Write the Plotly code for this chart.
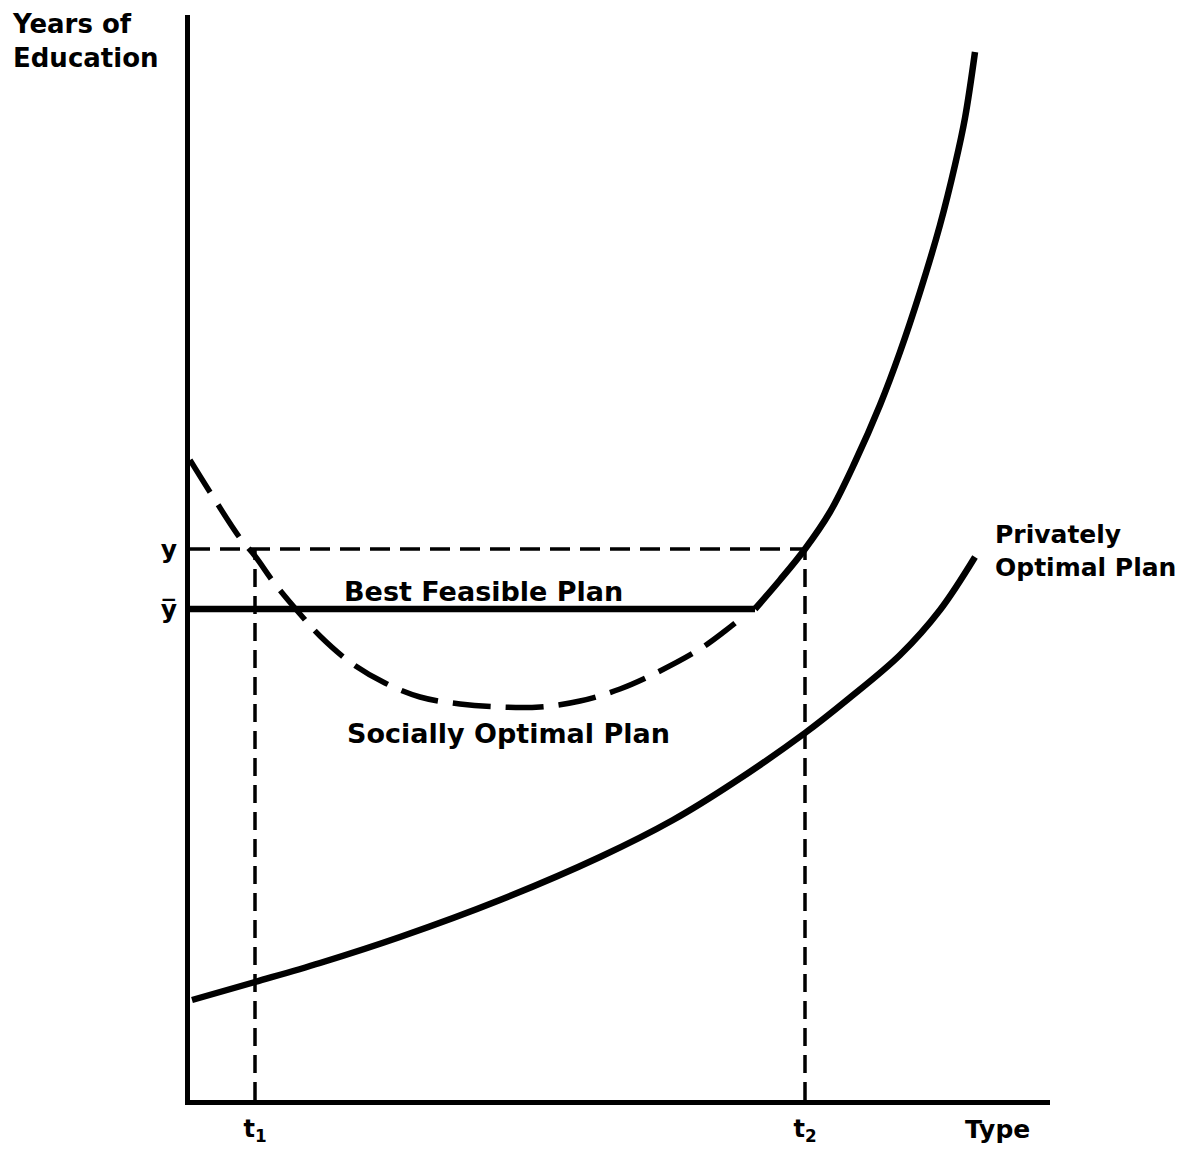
import plotly.graph_objects as go

# ---- data (Type on x, Years of Education on y; arbitrary units) ----
t1 = 6.5
t2 = 61.5
y_level = 55.1      # y
y_bar = 49.1        # y-bar

private_type = [0.2, 6.5, 13.0, 21.0, 31.0, 41.0, 48.3, 54.3, 61.5, 65.7, 71.0, 75.0, 78.5]
private_years = [10.0, 11.8, 13.7, 16.3, 20.0, 24.3, 28.0, 31.7, 36.7, 40.0, 44.5, 49.0, 54.3]

# best feasible plan: flat segment at y-bar, then the rising branch
feasible_flat_type = [0.0, 56.5]
feasible_flat_years = [49.1, 49.1]
feasible_rise_type = [56.5, 59.0, 61.5, 64.0, 66.5, 69.0, 71.0, 73.0, 75.0, 76.5, 77.5, 78.5]
feasible_rise_years = [49.1, 52.0, 55.1, 58.8, 63.8, 69.5, 74.8, 80.8, 87.5, 93.5, 98.2, 104.8]

social_type = [0.0, 2.5, 5.0, 6.5, 8.5, 11.0, 13.0, 16.0, 19.5, 23.0, 27.0, 31.0, 35.0, 39.0,
               43.0, 47.0, 51.0, 53.5, 55.5]
social_years = [64.0, 60.0, 56.2, 54.4, 51.6, 48.6, 46.4, 43.8, 41.7, 40.3, 39.6, 39.3, 39.3,
                39.9, 41.1, 42.9, 45.1, 46.9, 48.5]

x_ticks = [t1, t2]
x_tick_labels = ["<b>t<sub>1</sub></b>", "<b>t<sub>2</sub></b>"]
y_ticks = [y_level, y_bar]
y_tick_labels = ["<b>y</b>", "<b>y\u0305</b>"]

FONT = "DejaVu Sans"
fs = 25
fig = go.Figure()

# reference dashed lines
fig.add_trace(go.Scatter(x=[0, t2], y=[y_level, y_level], mode="lines",
                         line=dict(color="black", width=3.5, dash="20px,10px")))
fig.add_trace(go.Scatter(x=[t1, t1], y=[0, y_level], mode="lines",
                         line=dict(color="black", width=3.5, dash="18px,9px")))
fig.add_trace(go.Scatter(x=[t2, t2], y=[0, y_level], mode="lines",
                         line=dict(color="black", width=3.5, dash="18px,9px")))

# curves
fig.add_trace(go.Scatter(x=social_type, y=social_years, mode="lines", line_shape="spline",
                         line=dict(color="black", width=5.5, dash="38px,15px")))
fig.add_trace(go.Scatter(x=feasible_flat_type, y=feasible_flat_years, mode="lines",
                         line=dict(color="black", width=6.5)))
fig.add_trace(go.Scatter(x=feasible_rise_type, y=feasible_rise_years, mode="lines",
                         line_shape="spline", line=dict(color="black", width=6.5)))
fig.add_trace(go.Scatter(x=private_type, y=private_years, mode="lines", line_shape="spline",
                         line=dict(color="black", width=6.5)))


def label(text, x, y, xref="x", yref="y", xanchor="center", yanchor="middle",
          align="center", size=fs):
    fig.add_annotation(x=x, y=y, xref=xref, yref=yref, text=text, showarrow=False,
                       xanchor=xanchor, yanchor=yanchor, align=align,
                       font=dict(family=FONT, size=size, color="black"))


label("<b>Best Feasible Plan</b>", 29.3, 50.9, size=27)
label("<b>Socially Optimal Plan</b>", 31.8, 36.7, size=27)
label("<b>Privately<br>Optimal Plan</b>", 80.3, 58.2, xanchor="left", yanchor="top", align="left")
label("<b>Type</b>", 0.9395, -0.0276, xref="paper", yref="paper")
label("<b>Years of<br>Education</b>", -0.2093, 1.0075, xref="paper", yref="paper",
      xanchor="left", yanchor="top", align="left", size=26)

fig.update_layout(
    width=1182, height=1142,
    margin=dict(l=182, r=140, t=7, b=50, autoexpand=False),
    paper_bgcolor="white", plot_bgcolor="white",
    showlegend=False,
    font=dict(family=FONT, color="black"),
    xaxis=dict(range=[0, 86], showgrid=False, zeroline=False, showline=True,
               linecolor="black", linewidth=5, ticks="", tickvals=x_ticks,
               ticktext=x_tick_labels, tickfont=dict(size=24, family=FONT),
               ticklabelstandoff=3, automargin=False),
    yaxis=dict(range=[0, 108.5], showgrid=False, zeroline=False, showline=True,
               linecolor="black", linewidth=5, ticks="", tickvals=y_ticks,
               ticktext=y_tick_labels, tickfont=dict(size=fs, family=FONT),
               ticklabelstandoff=3, automargin=False),
)

fig.write_html("out.html")
